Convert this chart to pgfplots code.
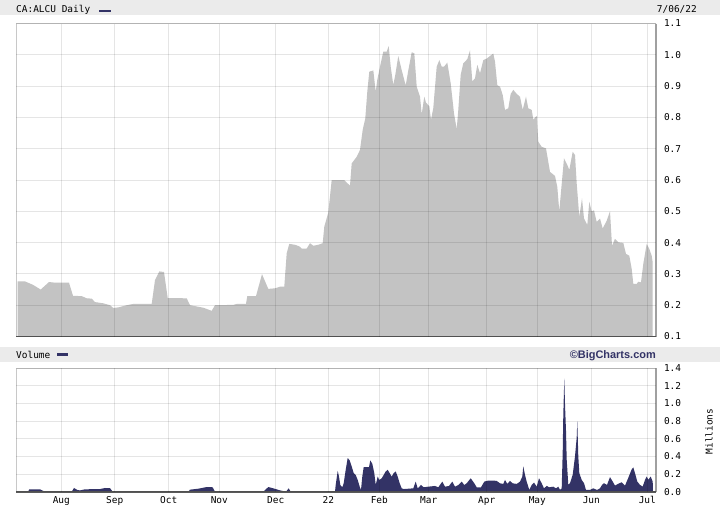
\documentclass[border=0pt]{standalone}
\usepackage{fontspec}
\setmonofont{DejaVu Sans Mono}
\setsansfont{Liberation Sans}
\usepackage{pgfplots}
\usepackage{pgfplotstable}
\pgfplotsset{compat=1.18}
\definecolor{hdr}{HTML}{EBEBEB}
\definecolor{gridc}{HTML}{C8C8C8}
\definecolor{pricefill}{HTML}{C3C3C3}
\definecolor{volfill}{HTML}{333366}
\definecolor{botline}{HTML}{5A5A5A}
\definecolor{rightline}{HTML}{A0A0A0}
\newcommand{\tf}{\fontsize{9.5}{10}\selectfont\ttfamily}

\pgfplotstableread{
x y
17.7 0.276
25 0.276
33 0.265
40.7 0.25
49 0.274
55 0.272
69 0.272
73 0.23
81.7 0.229
86.7 0.222
91.7 0.221
95 0.21
103.3 0.206
110 0.200
113.3 0.191
118.3 0.193
126.7 0.200
133.3 0.204
151.7 0.204
155 0.280
159.3 0.308
164 0.306
167.7 0.223
186.7 0.222
190 0.200
196.7 0.196
203.3 0.192
211.7 0.182
215 0.200
233.3 0.201
236.7 0.204
246 0.204
247.3 0.229
256 0.229
262 0.299
268.3 0.252
275 0.254
280 0.259
284.3 0.259
286.7 0.366
289.3 0.396
295 0.393
299.3 0.388
301.7 0.381
306.7 0.381
310 0.398
313.3 0.390
318.3 0.393
322.7 0.398
324.3 0.451
328.3 0.496
331.7 0.600
344 0.600
350 0.582
351.7 0.653
356.7 0.674
360 0.696
362.7 0.760
365.3 0.797
367.3 0.882
369.3 0.946
373.3 0.950
375.7 0.882
377.3 0.920
380 0.962
383.3 1.010
386.7 1.010
388.7 1.028
390.7 0.962
393.3 0.904
395.3 0.936
398.3 0.996
401.7 0.951
405.7 0.902
408.3 0.950
411.7 1.008
414.3 1.005
416.7 0.898
420 0.866
421.7 0.810
424.3 0.866
426 0.847
429.3 0.836
431 0.792
433.3 0.830
436.7 0.962
439.3 0.983
441.7 0.962
444 0.962
447.3 0.975
450.7 0.909
454 0.813
456.7 0.762
458.3 0.824
460.7 0.936
463.3 0.973
467.3 0.986
470 1.014
472.3 0.915
475 0.925
477.3 0.968
480 0.941
483.3 0.983
486.7 0.988
490 0.996
493.3 1.004
495 0.978
497.3 0.903
500 0.898
502.7 0.872
505 0.824
508.3 0.829
510.7 0.875
513.3 0.888
516.7 0.875
520 0.866
522.7 0.824
526 0.866
528.3 0.829
531.7 0.824
533.3 0.793
536.7 0.805
538.3 0.722
541.7 0.706
546 0.701
550 0.626
555 0.613
557.3 0.578
559.3 0.500
561 0.562
564 0.669
567.3 0.648
569.3 0.632
572.7 0.690
575 0.680
576.7 0.589
579.3 0.482
582 0.541
584 0.477
587.3 0.456
589.3 0.530
591.7 0.500
594 0.503
596.7 0.466
600 0.477
602.7 0.445
606.7 0.470
610 0.500
612 0.390
615 0.412
618.3 0.401
623.3 0.399
626 0.364
629.3 0.358
631.7 0.316
633.3 0.268
636.7 0.268
638.3 0.275
641 0.273
643.3 0.332
646.7 0.396
649.3 0.380
651.7 0.358
652.7 0.337
}\pricetable

\pgfplotstableread{
x y
17 0
28 0
29.3 0.027
40 0.027
45 0
71.7 0
74 0.042
77.3 0.02
80 0.015
85 0.027
100 0.03
105 0.042
110 0.04
112.7 0
188.3 0
190 0.023
198.3 0.034
206.7 0.053
212.7 0.05
215 0
263.3 0
268.3 0.053
273.3 0.038
280 0.015
286 0
288.7 0.038
290.7 0
335 0
335.7 0.076
337.7 0.236
339 0.171
340.3 0.076
342.3 0.05
343.7 0.095
345.7 0.248
347.7 0.381
349.7 0.354
351.7 0.286
353.7 0.21
355.7 0.19
357.7 0.133
359.7 0.057
361 0.02
362.3 0.171
363.7 0.278
369 0.278
370.3 0.354
372.3 0.316
374.3 0.21
375.7 0.076
377.7 0.171
379.3 0.133
381.7 0.152
383.7 0.19
385.7 0.229
387.7 0.248
389.7 0.21
391.7 0.171
393.7 0.21
395.7 0.229
397.7 0.171
399.7 0.095
401.7 0.038
403.7 0.03
413.3 0.038
415.7 0.114
417.7 0.038
421 0.076
423.7 0.05
428.3 0.057
435 0.065
438.3 0.05
442.3 0.114
445 0.057
449 0.065
452.3 0.114
455 0.057
458.3 0.076
461.7 0.114
464.3 0.076
466.7 0.095
470.7 0.152
474.3 0.095
476.7 0.05
481 0.05
484.3 0.114
488.3 0.126
493.3 0.126
496.7 0.122
500 0.095
503.3 0.088
505 0.133
507.3 0.088
510 0.122
512.7 0.095
516.7 0.088
520 0.114
522.3 0.171
523.3 0.286
525 0.19
526.7 0.114
529.3 0.02
531.7 0.076
534 0.103
536.7 0.057
539 0.152
541.7 0.095
544 0.038
546.7 0.065
549.3 0.05
553.3 0.057
556 0.038
558.3 0.057
560 0.02
561.7 0.038
562.7 0.44
563.3 0.862
564.3 1.28
565 0.99
566 0.69
566.7 0.364
568.3 0.077
570 0.096
572.7 0.192
575 0.40
576.7 0.61
577.3 0.80
578.3 0.40
579.3 0.21
581.7 0.134
584 0.096
586 0.02
590 0.02
593.3 0.038
597 0.02
600 0.038
602 0.077
604 0.096
607 0.077
610 0.165
612.7 0.115
615 0.069
618.3 0.09
621.7 0.107
625 0.069
628.3 0.157
631.7 0.253
633.3 0.275
635 0.21
637.3 0.115
640 0.077
642.7 0.058
645 0.134
646.7 0.172
648.3 0.134
650.7 0.172
652.7 0.115
653 0
}\voltable

\begin{document}
\begin{tikzpicture}
\path[use as bounding box, fill=white] (0,0) rectangle (720bp,-510bp);
\begin{scope}[x=1bp,y=-1bp]
\fill[hdr] (0,0) rectangle (720,15);
\fill[hdr] (0,347) rectangle (720,362);
\node[anchor=base west, inner sep=0, font=\tf] at (16,12.5) {CA:ALCU Daily};
\fill[volfill] (99,9.5) rectangle (111,12);
\node[anchor=base east, inner sep=0, font=\tf] at (697,12.5) {7/06/22};
\node[anchor=base west, inner sep=0, font=\tf] at (16,358.5) {Volume};
\fill[volfill] (57,353) rectangle (68,355.5);
\node[anchor=base east, inner sep=0, font=\fontsize{11}{12}\selectfont\sffamily\bfseries, text=volfill] at (656,358) {©BigCharts.com};
\node[rotate=90, inner sep=0, font=\tf] at (709,431.5) {Millions};
\end{scope}

\pgfplotsset{
  bcstyle/.style={
    anchor=north west,
    width=640bp, scale only axis,
    xmin=16, xmax=656,
    axis line style={draw=none},
    xtick={61.3,114.7,168.7,219.3,275.7,328.3,379.3,428.7,486.7,537.3,591.3,647.3},
    yticklabel pos=right,
    yticklabel style={anchor=west, font=\tf, xshift=4.5bp},
    xticklabel style={font=\tf, yshift=-1.5bp},
    major tick length=0pt,
    tick style={draw=none},
    grid=major,
    grid style={black, opacity=0.1, line width=1bp},
    axis on top,
    clip mode=individual,
  }
}

\begin{axis}[bcstyle,
  at={(16bp,-23.5bp)}, height=313bp,
  ymin=0.1, ymax=1.1,
  xticklabels={},
  ytick={0.1,0.2,0.3,0.4,0.5,0.6,0.7,0.8,0.9,1.0,1.1},
  yticklabels={0.1,0.2,0.3,0.4,0.5,0.6,0.7,0.8,0.9,1.0,1.1},
]
\addplot[fill=pricefill, draw=none] table[x=x,y=y] {\pricetable} \closedcycle;
\draw[gridc, line width=1bp] (rel axis cs:0,0) -- (rel axis cs:0,1) -- (rel axis cs:1,1);
\draw[rightline, line width=1.5bp] (rel axis cs:1,1) -- (rel axis cs:1,0);
\draw[botline, line width=1.6bp] (rel axis cs:0,0) -- (rel axis cs:1,0);
\end{axis}

\begin{axis}[bcstyle,
  at={(16bp,-368bp)}, height=123.7bp,
  ymin=0, ymax=1.4,
  xticklabels={Aug,Sep,Oct,Nov,Dec,22,Feb,Mar,Apr,May,Jun,Jul},
  ytick={0,0.2,0.4,0.6,0.8,1.0,1.2,1.4},
  yticklabels={0.0,0.2,0.4,0.6,0.8,1.0,1.2,1.4},
]
\addplot[fill=volfill, draw=none] table[x=x,y=y] {\voltable} \closedcycle;
\draw[gridc, line width=1bp] (rel axis cs:0,0) -- (rel axis cs:0,1) -- (rel axis cs:1,1);
\draw[rightline, line width=1.5bp] (rel axis cs:1,1) -- (rel axis cs:1,0);
\draw[botline, line width=1.6bp] (rel axis cs:0,0) -- (rel axis cs:1,0);
\end{axis}
\end{tikzpicture}
\end{document}
